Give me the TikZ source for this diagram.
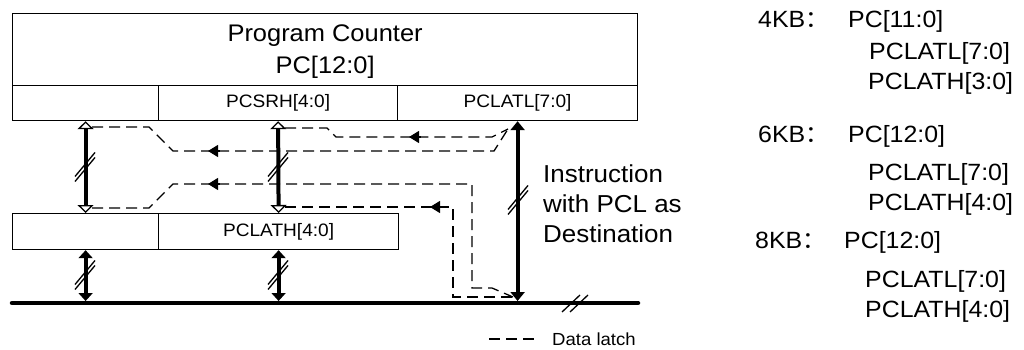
\documentclass[tikz,border=0pt]{standalone}
\usepackage{fontspec}
\setmainfont{Liberation Sans}[FakeStretch=1.06]
\newfontfamily\cjkfont{Noto Sans CJK SC}
\usepackage{tikz}
\usetikzlibrary{arrows.meta}

\begin{document}
\begin{tikzpicture}[x=1pt,y=-1pt,
  box/.style={draw=black,line width=1.2pt,inner sep=0pt,anchor=north west,font=\fontsize{18}{21}\selectfont},
  bigtxt/.style={font=\fontsize{24}{32}\selectfont,align=center},
  sidetxt/.style={font=\fontsize{23.5}{28}\selectfont,anchor=base west,inner sep=0pt},
  latch/.style={line width=1.3pt,dash pattern=on 11pt off 6pt},
  flowtip/.style={line width=1.2pt,-{Triangle[length=10pt,width=12pt]}},
  latcharrow/.style={line width=4pt,
    {Triangle[open,fill=white,line width=1.3pt,length=8pt,width=16pt]}-{Triangle[open,fill=white,line width=1.3pt,length=8pt,width=16pt]}},
  busarrow/.style={line width=4pt,shorten >=2pt,
    {Triangle[length=8pt,width=14pt]}-{Triangle[length=8pt,width=14pt]}},
  cutline/.style={line width=1.3pt}]
\useasboundingbox (0,0) rectangle (1024,350);

% registers
\node[box,minimum width=625,minimum height=72] (pc) at (12,13) {};
\node[bigtxt,yshift=-2pt] (pctxt) at (pc.center) {Program Counter\\PC[12:0]};
\node[box,minimum width=146,minimum height=35] (cA) at (12,85) {};
\node[box,minimum width=239,minimum height=35] (csrh) at (158,85) {PCSRH[4:0]};
\node[box,minimum width=240,minimum height=35] (clatl) at (397,85) {PCLATL[7:0]};
\node[box,minimum width=146,minimum height=36] (lA) at (12,213) {};
\node[box,minimum width=240,minimum height=36] (lath) at (158,213) {PCLATH[4:0]};

% data bus
\coordinate (busL) at (12,303);
\coordinate (busR) at (638,303);
\draw[line width=4.5pt,line cap=round] (busL) -- (busR);

% latch and bus arrows
\draw[latcharrow] (cA.south) -- (lA.north);
\draw[latcharrow] (csrh.south) -- (lath.north);
\draw[busarrow] (lA.south) -- (lA.south |- busL);
\draw[busarrow] (lath.south) -- (lath.south |- busL);
\draw[busarrow,{Triangle[length=9pt,width=14pt]}-{Triangle[length=9pt,width=14pt]}] (clatl.south) -- (clatl.south |- busL);

% bus width marks
\foreach \o in {-2.5,2.5} {
  \draw[cutline] (75,{179+\o}) -- ++(20,-24);
  \draw[cutline] (268,{179+\o}) -- ++(20,-24);
  \draw[cutline] (75,{287+\o}) -- ++(20,-24);
  \draw[cutline] (268,{287+\o}) -- ++(20,-24);
  \draw[cutline] (508,{212+\o}) -- ++(20,-24);
}
\foreach \o in {-4,4}
  \draw[cutline] ({566+\o},312) -- ++(18,-17);

% data latch paths
\coordinate (aT) at (92,127);
\coordinate (bT) at (285,128);
\coordinate (aB) at (92,208);
\coordinate (bB) at (285,207);
\coordinate (jT) at (508,129);
\coordinate (jB) at (513,297);
\draw[latch] (bT) -- (327,128) -- (336,137) -- (492,137) -- (jT);
\draw[latch] (aT) -- (149,127) -- (173,151) -- (494,151) -- (jT);
\draw[latch] (aB) -- (149,208) -- (173,184) -- (472,184) -- (472,288) -- (492,288) -- (jB);
\draw[latch] (bB) -- (453,207) -- (453,297) -- (jB);
\draw[flowtip] (421,137) -- (409,137);
\draw[flowtip] (220,151) -- (208,151);
\draw[flowtip] (220,184) -- (208,184);
\draw[flowtip] (442,207) -- (430,207);

% labels
\node[font=\fontsize{24.5}{30}\selectfont,align=left,anchor=base west,inner sep=0pt] (instr) at (543,242)
  {Instruction\\with PCL as\\Destination};
\draw[latch] (489,339) -- (534,339);
\node[font=\fontsize{17.5}{20}\selectfont,anchor=west,inner sep=0pt] (legend) at (552,339) {Data latch};

% memory sizes
\node[sidetxt] (k4) at (758,28) {4KB{\cjkfont ：}};
\node[sidetxt] (k4pc) at (848,28) {PC[11:0]};
\node[sidetxt] (k4l) at (869,60) {PCLATL[7:0]};
\node[sidetxt] (k4h) at (868,90) {PCLATH[3:0]};
\node[sidetxt] (k6) at (758,142) {6KB{\cjkfont ：}};
\node[sidetxt] (k6pc) at (848,142) {PC[12:0]};
\node[sidetxt] (k6l) at (868,180) {PCLATL[7:0]};
\node[sidetxt] (k6h) at (868,210) {PCLATH[4:0]};
\node[sidetxt] (k8) at (755,248) {8KB{\cjkfont ：}};
\node[sidetxt] (k8pc) at (844,248) {PC[12:0]};
\node[sidetxt] (k8l) at (865,287) {PCLATL[7:0]};
\node[sidetxt] (k8h) at (865,317) {PCLATH[4:0]};
\end{tikzpicture}
\end{document}
